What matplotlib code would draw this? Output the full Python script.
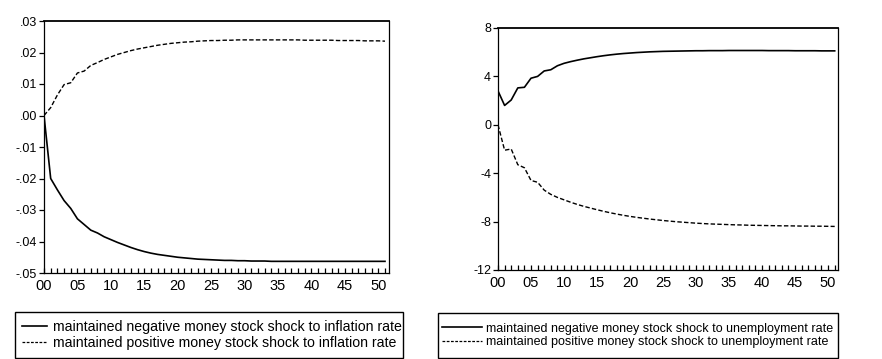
import matplotlib
matplotlib.use("Agg")
import matplotlib.pyplot as plt
from matplotlib.lines import Line2D
from matplotlib.patches import Rectangle
from matplotlib.ticker import FixedLocator, FixedFormatter, MultipleLocator

plt.rcParams["font.family"] = ["Liberation Sans", "DejaVu Sans"]

# Response horizon (periods after the shock)
periods = list(range(52))

# Inflation rate responses
infl_neg = [
    0.0000, -0.0200, -0.0236, -0.0270, -0.0295, -0.0328, -0.0346, -0.0364, -0.0373, -0.0385,
    -0.0394, -0.0403, -0.0411, -0.0419, -0.0426, -0.0432, -0.0437, -0.0441, -0.0444, -0.0447,
    -0.0450, -0.0452, -0.0454, -0.0456, -0.0457, -0.0458, -0.0459, -0.0460, -0.0460, -0.0461,
    -0.0461, -0.0462, -0.0462, -0.0462, -0.0463, -0.0463, -0.0463, -0.0463, -0.0463, -0.0463,
    -0.0463, -0.0463, -0.0463, -0.0463, -0.0463, -0.0463, -0.0463, -0.0463, -0.0463, -0.0463,
    -0.0463, -0.0463,
]
infl_pos = [
    0.0000, 0.0025, 0.0065, 0.0098, 0.0104, 0.0135, 0.0141, 0.0159, 0.0168, 0.0178,
    0.0186, 0.0194, 0.0200, 0.0206, 0.0211, 0.0215, 0.0219, 0.0223, 0.0226, 0.0229,
    0.0231, 0.0233, 0.0234, 0.0236, 0.0237, 0.0238, 0.0238, 0.0239, 0.0239, 0.0240,
    0.0240, 0.0240, 0.0240, 0.0240, 0.0240, 0.0240, 0.0240, 0.0240, 0.0240, 0.0239,
    0.0239, 0.0239, 0.0239, 0.0239, 0.0238, 0.0238, 0.0238, 0.0238, 0.0237, 0.0237,
    0.0237, 0.0236,
]

# Unemployment rate responses
unemp_neg = [
    2.80, 1.60, 2.05, 3.05, 3.10, 3.85, 4.00, 4.45, 4.55, 4.88,
    5.08, 5.22, 5.34, 5.45, 5.54, 5.63, 5.71, 5.78, 5.84, 5.89,
    5.93, 5.97, 6.00, 6.03, 6.05, 6.07, 6.08, 6.09, 6.10, 6.11,
    6.12, 6.12, 6.13, 6.13, 6.13, 6.14, 6.14, 6.14, 6.14, 6.14,
    6.14, 6.13, 6.13, 6.13, 6.13, 6.12, 6.12, 6.12, 6.12, 6.11,
    6.11, 6.11,
]
unemp_pos = [
    0.00, -2.10, -2.00, -3.30, -3.55, -4.60, -4.75, -5.40, -5.75, -6.00,
    -6.20, -6.40, -6.58, -6.74, -6.88, -7.02, -7.15, -7.27, -7.38, -7.48,
    -7.57, -7.65, -7.72, -7.79, -7.85, -7.91, -7.96, -8.01, -8.05, -8.09,
    -8.13, -8.16, -8.19, -8.21, -8.23, -8.25, -8.27, -8.28, -8.30, -8.31,
    -8.32, -8.33, -8.34, -8.35, -8.35, -8.36, -8.37, -8.37, -8.38, -8.38,
    -8.39, -8.40,
]

# Axis labels
x_tick_pos = [0, 5, 10, 15, 20, 25, 30, 35, 40, 45, 50]
x_tick_labels = ["00", "05", "10", "15", "20", "25", "30", "35", "40", "45", "50"]
infl_ticks = [0.03, 0.02, 0.01, 0.00, -0.01, -0.02, -0.03, -0.04, -0.05]
infl_tick_labels = [".03", ".02", ".01", ".00", "-.01", "-.02", "-.03", "-.04", "-.05"]
unemp_ticks = [8, 4, 0, -4, -8, -12]
unemp_tick_labels = ["8", "4", "0", "-4", "-8", "-12"]

infl_legend = [
    "maintained negative money stock shock to inflation rate",
    "maintained positive money stock shock to inflation rate",
]
unemp_legend = [
    "maintained negative money stock shock to unemployment rate",
    "maintained positive money stock shock to unemployment rate",
]

W, H = 882, 359
fig = plt.figure(figsize=(W / 100, H / 100), dpi=100)


def px_axes(x0, y0, x1, y1):
    return fig.add_axes([x0 / W, 1 - y1 / H, (x1 - x0) / W, (y1 - y0) / H])


DASH = (0, (3.2, 1.6))


def style(ax, xmax, yticks, ylabels, ylim):
    ax.set_xlim(0, xmax)
    ax.set_ylim(*ylim)
    ax.xaxis.set_major_locator(FixedLocator(x_tick_pos))
    ax.xaxis.set_major_formatter(FixedFormatter(x_tick_labels))
    ax.xaxis.set_minor_locator(MultipleLocator(1))
    ax.yaxis.set_major_locator(FixedLocator(yticks))
    ax.yaxis.set_major_formatter(FixedFormatter(ylabels))
    ax.tick_params(axis="x", which="both", direction="in", length=3.5, width=0.9,
                   labelsize=10.5, pad=4, top=False)
    ax.tick_params(axis="y", which="major", direction="out", length=3.5, width=0.9,
                   labelsize=9, pad=1.5, right=False)
    for sp in ax.spines.values():
        sp.set_linewidth(0.9)
    ax.spines["top"].set_linewidth(1.3)


# Left panel: inflation rate
ax1 = px_axes(44, 21, 389, 273)
ax1.plot(periods, infl_neg, color="black", lw=1.2)
ax1.plot(periods, infl_pos, color="black", lw=1.0, ls=DASH)
style(ax1, 51.6, infl_ticks, infl_tick_labels, (-0.05, 0.03))

# Right panel: unemployment rate
ax2 = px_axes(498, 28, 838, 270)
ax2.plot(periods, unemp_neg, color="black", lw=1.2)
ax2.plot(periods, unemp_pos, color="black", lw=1.0, ls=DASH)
style(ax2, 51.5, unemp_ticks, unemp_tick_labels, (-12, 8))


def legend(labels, box, handle_x, handle_px, text_gap_px, fs):
    bx0, by0, bx1, by1 = box
    fig.patches.append(Rectangle((bx0 / W, 1 - by1 / H), (bx1 - bx0) / W, (by1 - by0) / H,
                                 transform=fig.transFigure, fill=False,
                                 edgecolor="black", lw=1.0))
    fs_px = fs * 100 / 72
    handles = [
        Line2D([], [], color="black", lw=1.2),
        Line2D([], [], color="black", lw=0.9, ls=(0, (2.2, 1.2))),
    ]
    fig.legend(handles, labels, loc="center left",
               bbox_to_anchor=(handle_x / W, 1 - (by0 + by1) / 2 / H), borderaxespad=0,
               frameon=False, borderpad=0, handlelength=handle_px / fs_px,
               handletextpad=text_gap_px / fs_px, labelspacing=0.12, fontsize=fs)


legend(infl_legend, (15, 312, 403, 358), 22, 25, 6, 10.2)
legend(unemp_legend, (438, 313, 838, 358), 442, 40, 4, 9.0)

fig.savefig("out.png", dpi=100, facecolor="white")
